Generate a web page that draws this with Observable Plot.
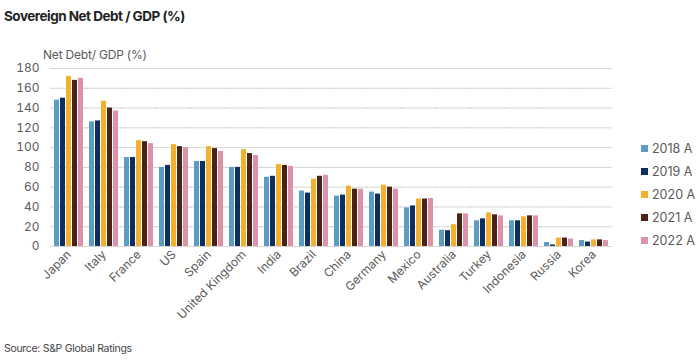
<!DOCTYPE html>
<html><head><meta charset="utf-8">
<script src="https://cdn.jsdelivr.net/npm/d3@7"></script>
<script src="https://cdn.jsdelivr.net/npm/@observablehq/plot@0.6"></script>
<style>
body{margin:0;width:700px;height:360px;background:#fff;font-family:Inter,"Open Sans",sans-serif;position:relative;overflow:hidden}
#title{position:absolute;left:4px;top:8px;font-size:13.5px;font-weight:700;color:#222;letter-spacing:-0.5px}
#ylabel{position:absolute;left:43px;top:47px;font-size:12px;color:#5a5a5a;letter-spacing:-0.2px}
#chart{position:absolute;left:0;top:28px}
#legend{position:absolute;left:641px;top:137px;font-size:12.5px;color:#5a5a5a}
#legend div{height:23px;display:flex;align-items:center}
#legend span.sw{width:7px;height:7px;margin-right:4px;display:inline-block}
#caption{position:absolute;left:4px;top:342px;font-size:10.5px;color:#444;letter-spacing:-0.3px}
</style></head>
<body>
<div id="title">Sovereign Net Debt / GDP (%)</div>
<div id="chart"></div>
<div id="ylabel">Net Debt/ GDP (%)</div>
<div id="legend"></div>
<div id="caption">Source: S&amp;P Global Ratings</div>
<script>
const countries = ["Japan","Italy","France","US","Spain","United Kingdom","India","Brazil","China","Germany","Mexico","Australia","Turkey","Indonesia","Russia","Korea"];
const years = ["2018 A","2019 A","2020 A","2021 A","2022 A"];
const colors = ["#5a9cc2","#0d2f5f","#f2b12c","#4b2216","#dc93a9"];
const v2018 = [148,126,90,80,86,80,70,56,51,55,39,16.5,26,26,4,6];
const v2019 = [150,127,90,82,86,80,71,54,52,53,41,16,28,26,1.5,4.5];
const v2020 = [172,147,107,103,101,98,83,68,61,62,48,22,34,30,8.5,6.7];
const v2021 = [168,140,106,101,99,94,82,71,58,60,48,33,32,31,8.5,6.7];
const v2022 = [170,137,104,100,96,92,81,72,58,58,48.5,33,31,31,7.5,6];
const yTicks = [0,20,40,60,80,100,120,140,160,180];

const series = [v2018,v2019,v2020,v2021,v2022];
const data = [];
countries.forEach((c,i)=>years.forEach((y,j)=>data.push({country:c,year:y,value:series[j][i]})));

const chart = Plot.plot({
  width:700, height:310, marginTop:40, marginLeft:47, marginRight:85, marginBottom:92,
  style:{fontFamily:'Inter,"Open Sans",sans-serif', fontSize:"12px", color:"#5a5a5a", background:"transparent"},
  fx:{domain:countries, paddingInner:0.11, paddingOuter:0, label:null},
  x:{domain:years, padding:0.1, axis:null},
  y:{domain:[0,180]},
  color:{domain:years, range:colors},
  marks:[
    Plot.gridY(yTicks, {stroke:"#d6d6d6", strokeOpacity:1, insetLeft:-3, insetRight:-3}),
    Plot.barY(data, {fx:"country", x:"year", y:"value", fill:"year"}),
    Plot.axisY(yTicks, {tickSize:0, tickPadding:14, label:null, fontSize:12}),
    Plot.axisFx({anchor:"bottom", tickRotate:-45, tickSize:0, tickPadding:6, label:null, fontSize:12})
  ]
});
document.getElementById("chart").appendChild(chart);

const lg = document.getElementById("legend");
years.forEach((y,i)=>{
  const d=document.createElement("div");
  d.innerHTML=`<span class="sw" style="background:${colors[i]}"></span>${y}`;
  lg.appendChild(d);
});
</script>
</body></html>
